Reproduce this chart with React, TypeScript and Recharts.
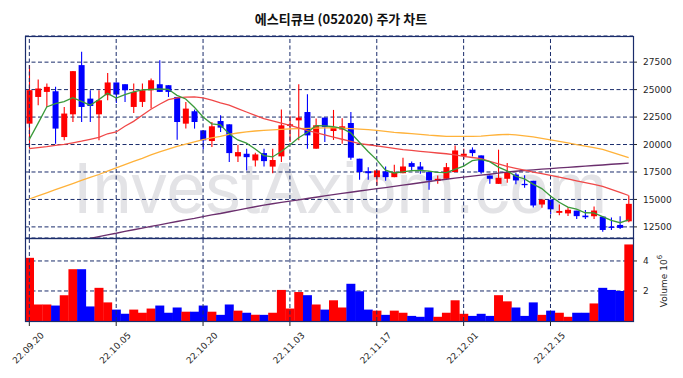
import React from "react";
import {
  ComposedChart,
  Bar,
  Line,
  XAxis,
  YAxis,
  CartesianGrid,
  ReferenceLine,
  Cell,
} from "recharts";

const dates = [
  "22.09.20", "22.09.21", "22.09.22", "22.09.23", "22.09.26", "22.09.27", "22.09.28", "22.09.29", "22.09.30", "22.10.04",
  "22.10.05", "22.10.06", "22.10.07", "22.10.11", "22.10.12", "22.10.13", "22.10.14", "22.10.17", "22.10.18", "22.10.19",
  "22.10.20", "22.10.21", "22.10.24", "22.10.25", "22.10.26", "22.10.27", "22.10.28", "22.10.31", "22.11.01", "22.11.02",
  "22.11.03", "22.11.04", "22.11.07", "22.11.08", "22.11.09", "22.11.10", "22.11.11", "22.11.14", "22.11.15", "22.11.16",
  "22.11.17", "22.11.18", "22.11.21", "22.11.22", "22.11.23", "22.11.24", "22.11.25", "22.11.28", "22.11.29", "22.11.30",
  "22.12.01", "22.12.02", "22.12.05", "22.12.06", "22.12.07", "22.12.08", "22.12.09", "22.12.12", "22.12.13", "22.12.14",
  "22.12.15", "22.12.16", "22.12.19", "22.12.20", "22.12.21", "22.12.22", "22.12.23", "22.12.26", "22.12.27", "22.12.28",
];

const opens = [
  21900, 24330, 24790, 24850, 20680, 22750, 27230, 24180, 22750, 24490,
  25650, 25490, 23420, 23880, 24940, 25490, 25400, 24330, 21900, 23030,
  21290, 20320, 22140, 21840, 18920, 19160, 18550, 19220, 17990, 18920,
  21690, 22200, 22960, 19620, 22450, 21230, 21360, 21960, 18710, 17570,
  17030, 17550, 17030, 17390, 18310, 18000, 17490, 16680, 16880, 17490,
  18970, 19530, 19010, 17180, 16420, 16880, 17270, 16420, 16700, 14540,
  14980, 13780, 13730, 13980, 13530, 13470, 13440, 12530, 12680, 13010,
];
const highs = [
  27230, 25920, 25550, 25250, 23420, 26700, 28440, 24940, 24940, 26520,
  25650, 25490, 25550, 25550, 26010, 27680, 25400, 24330, 23880, 23180,
  21290, 22050, 22660, 21840, 19990, 19620, 19250, 19620, 19620, 23180,
  22570, 25490, 24580, 22360, 22450, 23150, 22400, 22960, 18710, 17940,
  17640, 18000, 18150, 18800, 18460, 18400, 17490, 17180, 18310, 19920,
  19620, 19740, 19010, 17180, 19530, 18310, 17400, 17200, 16700, 15000,
  14980, 14550, 14300, 13980, 14050, 14360, 13440, 13350, 13470, 15360,
];
const lows = [
  19620, 23570, 23420, 20080, 20380, 22050, 22050, 22050, 20380, 24030,
  23790, 23880, 22870, 23420, 23270, 24790, 24330, 20440, 21450, 21450,
  19550, 19770, 21140, 18400, 18400, 17640, 17990, 17990, 17390, 18400,
  20220, 20380, 19620, 19620, 20220, 20420, 20080, 18620, 16790, 16790,
  16270, 16700, 17030, 17390, 17640, 17350, 15880, 16420, 16880, 17490,
  18680, 18920, 17340, 16420, 16420, 16510, 16390, 16060, 14270, 14240,
  13650, 13550, 13500, 13210, 13230, 13230, 12070, 12220, 12300, 12920,
];
const closes = [
  24950, 25100, 25250, 21450, 22820, 26680, 23420, 23510, 24030, 25650,
  24550, 24940, 24790, 24940, 25850, 24790, 24790, 22050, 23270, 22050,
  20380, 21660, 21540, 19220, 19310, 18850, 19100, 18490, 18590, 21750,
  21840, 22450, 20830, 21750, 21590, 21540, 21660, 18800, 17490, 17390,
  17640, 17030, 17490, 18000, 17970, 17700, 16730, 16880, 17940, 19460,
  19160, 19220, 17490, 16880, 16970, 17490, 16730, 16300, 14450, 14980,
  14100, 13950, 14060, 13480, 13380, 13990, 12220, 12410, 12410, 14600,
];
const volumes = [
  4210000, 1100000, 1100000, 1030000, 1720000, 3450000, 3450000, 970000, 2210000, 1240000,
  760000, 480000, 760000, 550000, 830000, 1030000, 550000, 900000, 620000, 620000,
  1030000, 620000, 410000, 1100000, 690000, 550000, 410000, 410000, 550000, 2070000,
  830000, 1930000, 1720000, 1100000, 760000, 1380000, 900000, 2480000, 1980000, 760000,
  690000, 410000, 690000, 550000, 340000, 280000, 900000, 280000, 550000, 1380000,
  480000, 340000, 480000, 340000, 1720000, 1310000, 900000, 340000, 1240000, 410000,
  690000, 550000, 280000, 550000, 550000, 1170000, 2210000, 2070000, 2000000, 5100000,
];

const ma5 = [
  20470, 21930, 23420, 23730, 23910, 24260, 23920, 23580, 24090, 24660,
  24230, 24540, 24790, 24970, 25010, 25060, 25030, 24480, 24150, 23390,
  22510, 21880, 21780, 20970, 20420, 20120, 19600, 18990, 18870, 19360,
  19950, 20620, 21090, 21720, 21690, 21620, 21470, 21060, 20210, 19370,
  18600, 17670, 17410, 17510, 17630, 17640, 17580, 17460, 17450, 17740,
  18030, 18530, 18650, 18440, 17940, 17610, 17110, 16870, 16390, 15990,
  15310, 14750, 14300, 14110, 13790, 13770, 13430, 13100, 12880, 13130,
];
const ma20 = [
  19620, 19720, 19810, 19920, 20010, 20150, 20300, 20470, 20650, 20980,
  21140, 21660, 22110, 22660, 23210, 23670, 24080, 24240, 24310, 24330,
  24250, 24050, 23790, 23580, 23270, 22960, 22660, 22360, 22150, 21950,
  21750, 21520, 21290, 21080, 20880, 20680, 20480, 20280, 20080, 19980,
  19870, 19770, 19650, 19530, 19460, 19380, 19310, 19230, 19160, 19050,
  18930, 18820, 18710, 18470, 18240, 18000, 17830, 17660, 17490, 17350,
  17200, 17030, 16870, 16700, 16530, 16370, 16200, 15920, 15640, 15360,
];
const ma60 = [
  15040, 15320, 15600, 15890, 16170, 16450, 16730, 17000, 17270, 17580,
  17870, 18160, 18460, 18740, 19050, 19330, 19580, 19830, 20030, 20240,
  20440, 20610, 20740, 20930, 21050, 21150, 21230, 21290, 21340, 21380,
  21430, 21450, 21470, 21490, 21520, 21530, 21490, 21450, 21400, 21350,
  21290, 21200, 21110, 21050, 20990, 20930, 20850, 20800, 20740, 20740,
  20740, 20740, 20770, 20830, 20890, 20930, 20880, 20790, 20690, 20560,
  20420, 20290, 20150, 19990, 19850, 19710, 19560, 19300, 19050, 18800,
];
const ma120 = [
  10340, 10490, 10660, 10810, 10970, 11140, 11290, 11460, 11610, 11770,
  11920, 12090, 12240, 12390, 12550, 12690, 12840, 12990, 13140, 13280,
  13440, 13590, 13720, 13880, 14030, 14190, 14330, 14480, 14610, 14730,
  14850, 14960, 15080, 15200, 15320, 15440, 15550, 15660, 15770, 15870,
  15980, 16080, 16190, 16300, 16410, 16520, 16630, 16740, 16840, 16940,
  17030, 17120, 17210, 17300, 17400, 17490, 17570, 17630, 17690, 17760,
  17810, 17870, 17920, 17980, 18030, 18090, 18140, 18200, 18250, 18310,
];

const priceTicks = [12500, 15000, 17500, 20000, 22500, 25000, 27500];
const volumeTicks = [2000000, 4000000];
const dateTicks = ["22.09.20", "22.10.05", "22.10.20", "22.11.03", "22.11.17", "22.12.01", "22.12.15"];

const UP = "#ff0000";
const DOWN = "#0000ff";
const NAVY = "#1a2c6b";
const TEXT = "#262626";

const rows = dates.map((d, i) => ({
  date: d,
  o: opens[i],
  h: highs[i],
  l: lows[i],
  c: closes[i],
  range: [lows[i], highs[i]],
  vol: volumes[i],
  ma5: ma5[i],
  ma20: ma20[i],
  ma60: ma60[i],
  ma120: ma120[i],
}));

function Candle(props: any) {
  const { x, y, width, height, payload } = props;
  const { o, h, l, c } = payload;
  const color = c >= o ? UP : DOWN;
  const top = Math.min(y, y + height);
  const full = Math.abs(height);
  const ratio = h === l ? 0 : full / (h - l);
  const bodyTop = top + (h - Math.max(o, c)) * ratio;
  const bodyH = Math.max(1, Math.abs(o - c) * ratio);
  const cx = x + width / 2;
  return (
    <g>
      <line x1={cx} x2={cx} y1={top} y2={top + full} stroke={color} strokeWidth={1.1} />
      <rect x={cx - 3} y={bodyTop} width={6} height={bodyH} fill={color} />
    </g>
  );
}

function DateTick(props: any) {
  const { x, payload } = props;
  const cx = x - 1;
  const cy = 110;
  return (
    <text
      x={cx}
      y={cy}
      transform={`rotate(-45 ${cx} ${cy})`}
      textAnchor="middle"
      dominantBaseline="central"
      fontSize={9}
      fill={TEXT}
      fontFamily="DejaVu Sans"
    >
      {payload.value}
    </text>
  );
}

const tickStyle = { fontSize: 9, fill: TEXT, fontFamily: "DejaVu Sans" };

export default function App() {
  return (
    <div
      style={{
        position: "absolute",
        left: 0,
        top: 0,
        width: 683,
        height: 378,
        background: "#fff",
        overflow: "hidden",
      }}
    >
      {/* watermark */}
      <svg width={683} height={378} style={{ position: "absolute", left: 0, top: 0 }}>
        <text
          x={73}
          y={213}
          fontSize={72}
          fontFamily="Liberation Sans, Arial, sans-serif"
          fill="#e3e3e6"
          textLength={534}
          lengthAdjust="spacingAndGlyphs"
        >
          InvestAxiom.com
        </text>
      </svg>

      <div style={{ position: "absolute", left: 0, top: 0 }}>
        <ComposedChart
          width={683}
          height={240}
          data={rows}
          margin={{ top: 36, right: 0, bottom: 2, left: 25 }}
          barCategoryGap={1}
        >
          <CartesianGrid vertical={false} stroke={NAVY} strokeDasharray="4 2.5" />
          <XAxis dataKey="date" hide />
          <YAxis
            orientation="right"
            width={50}
            domain={[11490, 29880]}
            allowDataOverflow
            ticks={priceTicks}
            tick={tickStyle}
            tickSize={4}
            tickMargin={6}
            tickLine={{ stroke: TEXT }}
            axisLine={false}
          />
          {dateTicks.map((d) => (
            <ReferenceLine key={d} x={d} stroke={NAVY} strokeDasharray="4 2.5" />
          ))}
          <Bar dataKey="range" shape={Candle} isAnimationActive={false} />
          <Line dataKey="ma120" type="linear" stroke="#6b2f6e" strokeWidth={1.4} dot={false} isAnimationActive={false} />
          <Line dataKey="ma60" type="linear" stroke="#ffb23a" strokeWidth={1.3} dot={false} isAnimationActive={false} />
          <Line dataKey="ma20" type="linear" stroke="#f04848" strokeWidth={1.3} dot={false} isAnimationActive={false} />
          <Line dataKey="ma5" type="linear" stroke="#3a9a3a" strokeWidth={1.3} dot={false} isAnimationActive={false} />
        </ComposedChart>
      </div>

      <div style={{ position: "absolute", left: 0, top: 238 }}>
        <ComposedChart
          width={683}
          height={140}
          data={rows}
          margin={{ top: 0, right: 0, bottom: 0, left: 25 }}
          barCategoryGap={0}
        >
          <CartesianGrid vertical={false} stroke={NAVY} strokeDasharray="4 2.5" />
          <XAxis
            dataKey="date"
            height={57}
            ticks={dateTicks}
            interval={0}
            tick={<DateTick />}
            tickSize={5}
            tickLine={{ stroke: TEXT }}
            axisLine={false}
          />
          <YAxis
            orientation="right"
            width={50}
            domain={[0, 5530000]}
            allowDataOverflow
            ticks={volumeTicks}
            tickFormatter={(v: number) => String(v / 1000000)}
            tick={tickStyle}
            tickSize={4}
            tickMargin={6}
            tickLine={{ stroke: TEXT }}
            axisLine={false}
          />
          {dateTicks.map((d) => (
            <ReferenceLine key={d} x={d} stroke={NAVY} strokeDasharray="4 2.5" />
          ))}
          <Bar dataKey="vol" isAnimationActive={false}>
            {rows.map((r, i) => (
              <Cell key={i} fill={r.c >= r.o ? UP : DOWN} />
            ))}
          </Bar>
        </ComposedChart>
      </div>

      {/* frame, title, volume label */}
      <svg width={683} height={378} style={{ position: "absolute", left: 0, top: 0, pointerEvents: "none" }}>
        <rect x={25.5} y={36.5} width={608} height={202} fill="none" stroke={NAVY} strokeWidth={1.2} />
        <rect x={25.5} y={238.5} width={608} height={83} fill="none" stroke={NAVY} strokeWidth={1.2} />
        <text
          x={341}
          y={18}
          textAnchor="middle"
          dominantBaseline="central"
          fontSize={13}
          fontWeight="bold"
          fontFamily="Noto Sans CJK KR, sans-serif"
          fill="#111"
        >
          에스티큐브 (052020) 주가 차트
        </text>
        <text
          x={664}
          y={281}
          transform="rotate(-90 664 281)"
          textAnchor="middle"
          dominantBaseline="central"
          fontSize={9}
          fontFamily="DejaVu Sans"
          fill={TEXT}
        >
          Volume{"  "}10
          <tspan fontSize={7} dy={-4}>
            6
          </tspan>
        </text>
      </svg>
    </div>
  );
}
